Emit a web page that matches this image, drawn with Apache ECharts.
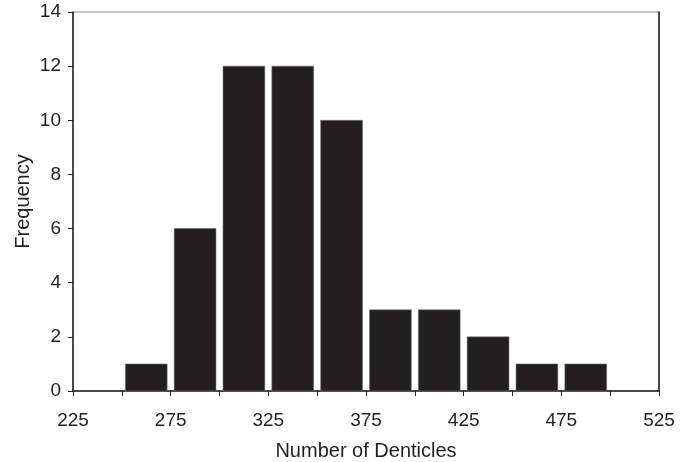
<!DOCTYPE html>
<html>
<head>
<meta charset="utf-8">
<script src="https://cdn.jsdelivr.net/npm/echarts@6/dist/echarts.min.js"></script>
<style>html,body{margin:0;padding:0;background:#fff}#c{width:688px;height:462px}</style>
</head>
<body>
<div id="c"></div>
<script>
// Histogram bins (lower edge of each bin) and frequencies
var binStarts = [250, 275, 300, 325, 350, 375, 400, 425, 450, 475];
var binWidth = 25;
var frequencies = [1, 6, 12, 12, 10, 3, 3, 2, 1, 1];
var xLabels = [225, 275, 325, 375, 425, 475, 525];
var yTicks = [0, 2, 4, 6, 8, 10, 12, 14];

var data = binStarts.map(function (s, i) { return [s, s + binWidth, frequencies[i]]; });

var chart = echarts.init(document.getElementById('c'), null, {renderer: 'canvas'});
var font = '"Liberation Sans", Arial, sans-serif';
var ink = '#231f20';
chart.setOption({
  animation: false,
  backgroundColor: '#fff',
  grid: {left: 73, right: 29, top: 12, bottom: 71, show: true, borderColor: '#888', borderWidth: 1,
         containLabel: false, outerBoundsMode: 'none'},
  xAxis: {
    type: 'value', min: 225, max: 525, interval: 25,
    name: 'Number of Denticles', nameLocation: 'middle', nameGap: 50, nameMoveOverlap: false,
    nameTextStyle: {fontFamily: font, fontSize: 20, color: ink},
    axisLine: {show: true, onZero: false, lineStyle: {color: ink, width: 1.5}},
    axisTick: {show: true, length: 5, lineStyle: {color: ink}},
    axisLabel: {
      margin: 20, fontFamily: font, fontSize: 19, color: ink,
      formatter: function (v) { return xLabels.indexOf(v) >= 0 ? String(v) : ''; }
    },
    splitLine: {show: false}
  },
  yAxis: [{
    type: 'value', min: 0, max: 14, interval: 2,
    name: 'Frequency', nameLocation: 'middle', nameGap: 40, nameMoveOverlap: false,
    nameTextStyle: {fontFamily: font, fontSize: 20, color: ink},
    axisLine: {show: true, lineStyle: {color: ink, width: 1.5}},
    axisTick: {show: true, length: 5, lineStyle: {color: ink}},
    axisLabel: {
      margin: 12, fontFamily: font, fontSize: 19, color: ink,
      formatter: function (v) { return yTicks.indexOf(v) >= 0 ? String(v) : ''; }
    },
    splitLine: {show: false}
  }, {
    type: 'value', min: 0, max: 14, interval: 2, position: 'right',
    axisLine: {show: true, lineStyle: {color: ink, width: 1.5}},
    axisTick: {show: false}, axisLabel: {show: false}, splitLine: {show: false}
  }],
  series: [{
    type: 'custom',
    data: data,
    encode: {x: [0, 1], y: 2},
    renderItem: function (params, api) {
      var p0 = api.coord([api.value(0), api.value(2)]);
      var p1 = api.coord([api.value(1), 0]);
      var gap = 3.5;
      return {
        type: 'rect',
        shape: {x: p0[0] + gap, y: p0[1], width: p1[0] - p0[0] - 2 * gap, height: p1[1] - p0[1]},
        style: {fill: ink, stroke: '#777', lineWidth: 0.6}
      };
    }
  }]
});
</script>
</body>
</html>
